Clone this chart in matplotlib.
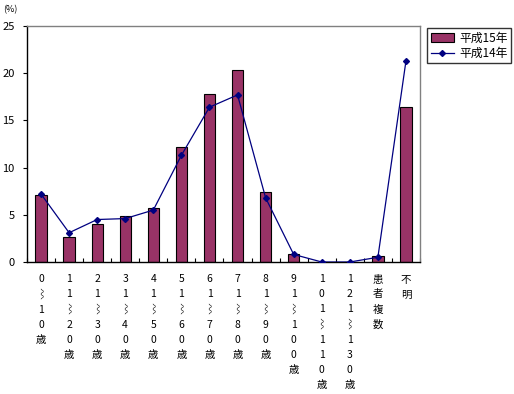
import matplotlib
matplotlib.use("Agg")
import matplotlib.pyplot as plt
import numpy as np

plt.rcParams['font.family'] = ['Noto Sans CJK JP', 'DejaVu Sans']

categories = ["0⌇10歳", "11⌇20歳", "21⌇30歳", "31⌇40歳", "41⌇50歳", "51⌇60歳",
              "61⌇70歳", "71⌇80歳", "81⌇90歳", "91⌇100歳", "101⌇110歳",
              "121⌇130歳", "患者複数", "不明"]
h15 = [7.1, 2.6, 4.0, 4.9, 5.7, 12.2, 17.8, 20.3, 7.4, 0.8, 0.0, 0.0, 0.6, 16.4]
h14 = [7.2, 3.1, 4.5, 4.6, 5.5, 11.3, 16.4, 17.7, 6.8, 0.8, 0.0, 0.0, 0.5, 21.3]
yticks = [0, 5, 10, 15, 20, 25]

fig = plt.figure(figsize=(5.14, 3.94), dpi=100)
ax = fig.add_axes([27/514, 1-262/394, (420-27)/514, (262-26)/394])

x = np.arange(len(categories))
bars = ax.bar(x, h15, width=0.4, color='#993366', edgecolor='black', linewidth=0.8,
              label='平成15年', zorder=2)
line, = ax.plot(x, h14, color='#000080', linewidth=0.9, marker='D', markersize=3,
                markerfacecolor='#000080', markeredgecolor='#000080', label='平成14年', zorder=3)

ax.set_xlim(-0.5, len(categories) - 0.5)
ax.set_ylim(0, 25)
ax.set_yticks(yticks)
ax.set_yticklabels([str(v) for v in yticks], fontsize=8)
ax.set_xticks(x)
ax.set_xticklabels(['\n'.join(list(c)) for c in categories], fontsize=7.5,
                   linespacing=1.62, va='top')
ax.set_xticks(np.arange(-0.5, len(categories), 1), minor=True)
ax.tick_params(axis='x', which='major', length=0, pad=9)
ax.tick_params(axis='x', which='minor', direction='in', length=3, width=0.8)
ax.tick_params(axis='y', direction='out', length=3, width=0.8, pad=6)

for s in ['top', 'right']:
    ax.spines[s].set_color('#808080')
    ax.spines[s].set_linewidth(1.0)
for s in ['left', 'bottom']:
    ax.spines[s].set_color('black')
    ax.spines[s].set_linewidth(1.0)

fig.text(3/514, 1-10/394, '(%)', fontsize=6.5, va='center', ha='left')

leg = fig.legend(handles=[bars, line], loc='upper left',
                 bbox_to_anchor=(427/514, 1-28/394), fontsize=8.5,
                 frameon=True, fancybox=False, edgecolor='black',
                 borderpad=0.3, handlelength=2.0, handletextpad=0.4,
                 labelspacing=0.2, borderaxespad=0)
leg.get_frame().set_linewidth(1.0)

fig.savefig('out.png', dpi=100)
